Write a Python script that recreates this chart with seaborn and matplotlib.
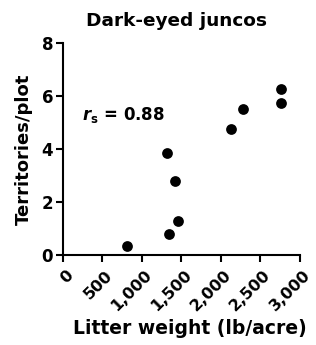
import seaborn as sns
import matplotlib.pyplot as plt
import matplotlib.transforms as mtransforms
import pandas as pd

# Litter weight vs territories
litter_weight = [815, 1344, 1456, 1421, 1315, 2125, 2275, 2757, 2757]
territories = [0.35, 0.78, 1.3, 2.8, 3.86, 4.77, 5.5, 5.75, 6.25]
x_ticks = [0, 500, 1000, 1500, 2000, 2500, 3000]
x_tick_labels = ['0', '500', '1,000', '1,500', '2,000', '2,500', '3,000']
y_ticks = [0, 2, 4, 6, 8]

df = pd.DataFrame({'weight': litter_weight, 'territories': territories})

sns.set_style('ticks')
plt.rcParams['font.family'] = ['DejaVu Sans']
plt.rcParams['font.weight'] = 'bold'
plt.rcParams['text.color'] = 'black'
plt.rcParams['axes.labelcolor'] = 'black'
plt.rcParams['axes.edgecolor'] = 'black'
plt.rcParams['mathtext.fontset'] = 'custom'
plt.rcParams['mathtext.it'] = 'DejaVu Sans:bold:italic'
plt.rcParams['mathtext.rm'] = 'DejaVu Sans:bold'
plt.rcParams['mathtext.bf'] = 'DejaVu Sans:bold'

fig = plt.figure(figsize=(3.16, 3.45), dpi=100)
ax = fig.add_axes([0.199, 0.261, 0.75, 0.614])

sns.scatterplot(x='weight', y='territories', data=df, ax=ax,
                color='black', s=60, edgecolor='black', linewidth=0)

ax.set_xlim(0, 3000)
ax.set_ylim(0, 8)
ax.set_xticks(x_ticks)
ax.set_xticklabels(x_tick_labels, rotation=45, ha='right', rotation_mode='anchor')
ax.set_yticks(y_ticks)
ax.tick_params(direction='out', length=5, width=1.5, pad=2, colors='black')
ax.tick_params(axis='y', labelsize=12)
ax.tick_params(axis='x', labelsize=11.5, pad=4)
shift = mtransforms.ScaledTranslation(0.025, 0, fig.dpi_scale_trans)
for lab in ax.get_xticklabels():
    lab.set_transform(lab.get_transform() + shift)
for lab in ax.get_xticklabels() + ax.get_yticklabels():
    lab.set_fontweight('bold')
for side in ['top', 'right']:
    ax.spines[side].set_visible(False)
for side in ['left', 'bottom']:
    ax.spines[side].set_linewidth(1.5)
    ax.spines[side].set_color('black')

ax.text(240, 5.3, r'$r_\mathrm{s}$ = 0.88', fontsize=12, fontweight='bold', va='center')

ax.set_title('Dark-eyed juncos', fontsize=13.3, fontweight='bold', pad=12, x=0.48)
ax.set_xlabel('Litter weight (lb/acre)', fontsize=13.5, fontweight='bold')
ax.xaxis.set_label_coords(0.536, -0.30)
ax.set_ylabel('Territories/plot', fontsize=13, fontweight='bold', labelpad=6)

plt.savefig('out.png', dpi=100)
